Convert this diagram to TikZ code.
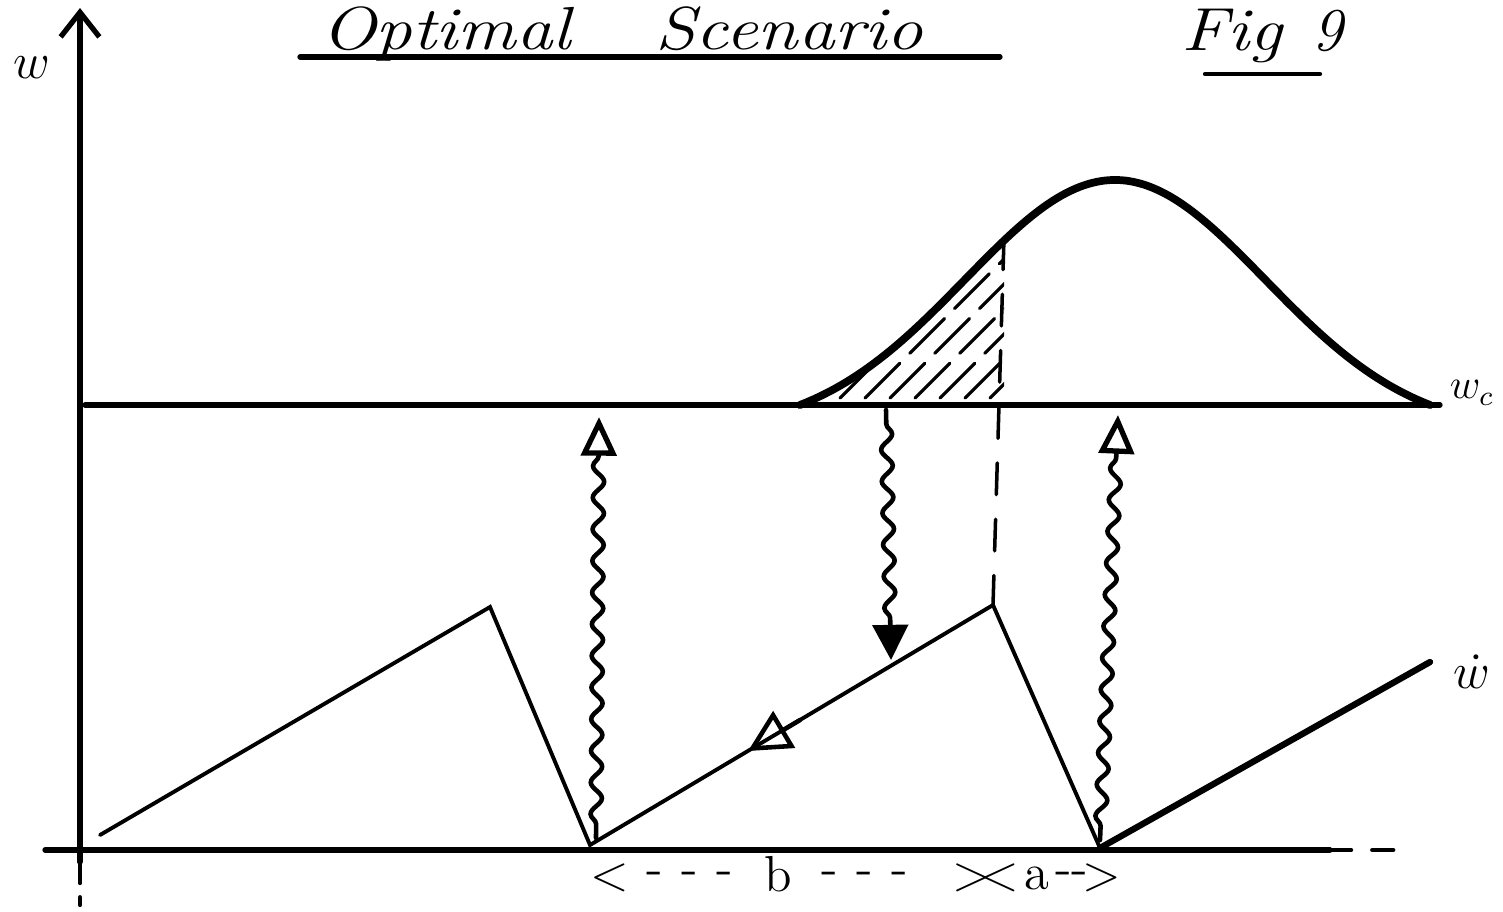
\documentclass[tikz,border=0pt]{standalone}
\usepackage{amsmath}
\usetikzlibrary{arrows.meta,decorations.pathmorphing,positioning}

\begin{document}
\begin{tikzpicture}[x=0.01cm,y=-0.01cm,line cap=round,
  hand/.style={font=\LARGE\itshape,anchor=base,inner sep=1pt},
  saw/.style={line width=1.1pt},
  bell/.style={line width=2.2pt},
  wiggle/.style={line width=1.3pt,decorate,
    decoration={snake,amplitude=1.6pt,segment length=9pt,pre length=4pt,post length=10pt}}]
\useasboundingbox (0,0) rectangle (1503,911);
% titles
\node[hand] (title) at (622,49) {\scalebox{1.2}[1]{Optimal}\hspace{0.85cm}\scalebox{1.2}[1]{Scenario}};
\draw[line width=1.5pt] (300,57) -- (1000,57);
\node[hand] (fig) at (1262,50) {\scalebox{1.2}[1]{Fig}\hspace{0.3cm}9};
\draw[line width=1.2pt] (1205,74) -- (1320,74);
% axes
\draw[line width=1.5pt,-{Straight Barb[length=7pt,width=11pt]}] (80,862) -- (80,8);
\draw[line width=1.2pt,dash pattern=on 6pt off 4pt] (80,862) -- (80,905);
\draw[line width=1.5pt] (45,850) -- (1330,850);
\draw[line width=1.2pt,dash pattern=on 6pt off 6pt] (1330,850) -- (1405,850);
\node (w) at (32,68) {\Large$w$};
% critical level
\draw[line width=1.5pt] (85,405) -- (1440,405);
\node (wc) at (1472,393) {\large$w_c$};
% bell curve and hatched part
\draw[bell] plot[domain=800:1430,samples=90,smooth] (\x,{405-225*(exp(-0.5*pow((\x-1115)/150,2))-0.11)/0.89});
\begin{scope}
\clip plot[domain=800:1004,samples=40] (\x,{405-225*(exp(-0.5*pow((\x-1115)/150,2))-0.11)/0.89}) -- (1004,405) -- cycle;
\foreach \s in {790,815,...,1000}
  \draw[line width=0.9pt,dash pattern=on 14pt off 4pt] (\s,398) -- ++(190,-190);
\end{scope}
% sawtooth
\coordinate (s0) at (100,835);
\coordinate (p1) at (490,607);
\coordinate (v1) at (590,845);
\coordinate (p2) at (993,605);
\coordinate (v2) at (1100,848);
\coordinate (e) at (1430,662);
\draw[saw] (s0) -- (p1) -- (v1) -- (p2) -- (v2);
\draw[line width=1.8pt] (v2) -- (e);
\node[inner sep=0pt] (wdot) at (1472,672) {\Large$\dot w$};
\draw[line width=1pt,dash pattern=on 9pt off 7pt] (1004,238) -- (p2);
\draw[line width=1.3pt,-{Triangle[open,length=12pt,width=12pt]}] (800,720) -- (748,751);
% wavy arrows
\coordinate (a1) at (596,838);
\coordinate (a1t) at (599,417);
\coordinate (a2) at (886,410);
\coordinate (a2t) at (891,660);
\coordinate (a3) at (1100,840);
\coordinate (a3t) at (1118,415);
\draw[wiggle,-{Triangle[open,length=11pt,width=10pt,line width=1.5pt]}] (a1) -- (a1t);
\draw[wiggle,-{Triangle[length=10pt,width=10pt]}] (a2) -- (a2t);
\draw[wiggle,-{Triangle[open,length=11pt,width=10pt,line width=1.5pt]}] (a3) -- (a3t);
% interval labels
\node (bl) at (610,878) {\Large$<$};
\foreach \x in {655,690,725,830,865,900}
  \node at (\x,878) {\Large -};
\node (b) at (778,874) {\Large b};
\node (br) at (972,878) {\Large$>$};
\node (al) at (1000,878) {\Large$<$};
\node (a) at (1037,878) {\Large a};
\foreach \x in {1064,1080}
  \node at (\x,878) {\Large -};
\node (ar) at (1102,878) {\Large$>$};
\end{tikzpicture}
\end{document}
